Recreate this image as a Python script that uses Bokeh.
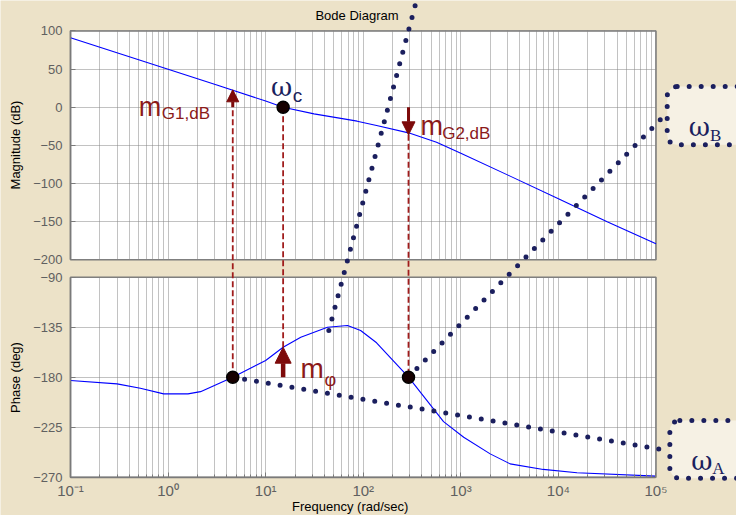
from bokeh.plotting import figure
from bokeh.models import Range1d, LinearAxis, LogAxis, FixedTicker, Grid, Arrow, NormalHead
from bokeh.core.properties import value
from bokeh.embed import file_html
from bokeh.resources import INLINE

# ---------------- data ----------------
mag_freq = [0.1, 0.316, 1, 3.16, 10, 15.1, 31.3, 86.7, 137, 291, 564, 1000, 3160, 10000, 31600, 100000]
mag_db = [91, 70.3, 49.7, 29, 8, 0, -8.7, -18.3, -24, -33.6, -45.9, -60.5, -90, -120, -150, -179]

phase_freq = [0.1, 0.3, 0.52, 0.9, 1.6, 2.15, 4.6, 10, 15.1, 22.9, 43, 69, 94, 137, 291,
              665, 1070, 2000, 3200, 7000, 15500, 100000]
phase_deg = [-183, -186, -190, -195, -195, -193, -180, -165, -153, -144, -135, -133.5, -138, -149, -180,
             -220, -234, -249, -258, -263, -266, -269]

decades = [0.1, 1, 10, 100, 1000, 10000, 100000]
decade_labels = ["10⁻¹", "10⁰", "10¹", "10²", "10³", "10⁴", "10⁵"]
minor_mantissas = [2, 3, 4, 5, 6, 7, 8, 9]
mag_ticks = [-200, -150, -100, -50, 0, 50, 100]
phase_ticks = [-270, -225, -180, -135, -90]

# marked points
w_A = 4.6       # left -180 deg crossing
w_c = 15.1      # gain crossover
w_B = 291       # right -180 deg crossing
m_G1 = 22.8     # dB at w_A
m_G2 = -36.2    # dB at w_B
phi_c = -153    # phase at w_c
phase_ref = -180

# ---------------- layout / style ----------------
W, H = 736, 515
X_LO, X_HI = 10 ** -1.7174, 10 ** 5.8251
MAG_LO, MAG_HI = -535.1, 139.84
PH_LO, PH_HI = -304.47, 159.03

BG = "#ECE2C8"
BOXFILL = "#F6F1E4"
NAVY = "#1b1f5e"
ARROW = "#7d0a0a"
REDTXT = "#8b1a1a"
DASH = "#a01c1c"
FRAME = "#7a7a7a"
GRID = "#858585"
TICK = "#606060"
CURVE = "#0000ff"


def ph2mag(d):
    f = (PH_HI - d) / (PH_HI - PH_LO)
    return MAG_HI - f * (MAG_HI - MAG_LO)


p = figure(width=W, height=H, x_axis_type="log", x_range=Range1d(X_LO, X_HI),
           y_range=Range1d(MAG_LO, MAG_HI), x_axis_location=None, y_axis_location=None,
           toolbar_location=None, tools="", output_backend="svg", min_border=0, title=None)
p.center = []
p.extra_y_ranges = {"phase": Range1d(PH_LO, PH_HI)}
p.background_fill_color = BG
p.border_fill_color = BG
p.outline_line_color = None

# plot panels
p.quad(left=[decades[0]], right=[decades[-1]], bottom=[mag_ticks[0]], top=[mag_ticks[-1]],
       fill_color="white", line_color=FRAME, line_width=1.5, level="image")
p.quad(left=[decades[0]], right=[decades[-1]], bottom=[phase_ticks[0]], top=[phase_ticks[-1]],
       fill_color="white", line_color=FRAME, line_width=1.5, level="image", y_range_name="phase")

# grids
x_minor = [m * d for d in decades[:-1] for m in minor_mantissas]
x_ticker = FixedTicker(ticks=decades, minor_ticks=x_minor)
for rname, yt in (("default", mag_ticks), ("phase", phase_ticks)):
    p.add_layout(Grid(dimension=0, ticker=x_ticker, y_range_name=rname,
                      bounds=(decades[0], decades[-1]), cross_bounds=(yt[0], yt[-1]),
                      grid_line_color=GRID, grid_line_dash="1 1", grid_line_width=1,
                      minor_grid_line_color=GRID, minor_grid_line_dash="1 1", minor_grid_line_width=1), "center")
    p.add_layout(Grid(dimension=1, ticker=FixedTicker(ticks=yt), y_range_name=rname,
                      bounds=(yt[0], yt[-1]), cross_bounds=(decades[0], decades[-1]),
                      grid_line_color=GRID, grid_line_dash="1 1", grid_line_width=1), "center")


def axis_style(ax):
    ax.axis_line_color = FRAME
    ax.axis_line_width = 1.5
    ax.major_tick_in = 5
    ax.major_tick_out = 0
    ax.major_tick_line_color = FRAME
    ax.minor_tick_in = 3
    ax.minor_tick_out = 0
    ax.minor_tick_line_color = FRAME
    ax.major_label_text_font = "Liberation Sans"
    ax.major_label_text_color = TICK
    ax.axis_label_text_font = "Liberation Sans"
    ax.axis_label_text_font_style = "normal"
    ax.axis_label_text_color = "black"
    ax.axis_label_text_font_size = "13px"


ax_mag = LinearAxis(fixed_location=decades[0], bounds=(mag_ticks[0], mag_ticks[-1]),
                    ticker=FixedTicker(ticks=mag_ticks), axis_label="Magnitude (dB)")
axis_style(ax_mag)
ax_mag.major_label_text_font_size = "13px"
ax_mag.major_label_standoff = 8
ax_mag.axis_label_standoff = 7
p.add_layout(ax_mag, "left")

ax_ph = LinearAxis(fixed_location=decades[0], bounds=(phase_ticks[0], phase_ticks[-1]),
                   ticker=FixedTicker(ticks=phase_ticks), axis_label="Phase (deg)", y_range_name="phase")
axis_style(ax_ph)
ax_ph.major_label_text_font_size = "13px"
ax_ph.major_label_standoff = 8
ax_ph.axis_label_standoff = 7
p.add_layout(ax_ph, "left")

ax_x = LogAxis(y_range_name="phase", fixed_location=phase_ticks[0], bounds=(decades[0], decades[-1]),
               ticker=x_ticker, major_label_overrides=dict(zip(decades, decade_labels)))
axis_style(ax_x)
ax_x.major_label_text_font_size = "15px"
ax_x.major_label_standoff = 5
p.add_layout(ax_x, "below")

# curves
p.line(mag_freq, mag_db, line_color=CURVE, line_width=1.1)
p.line(phase_freq, phase_deg, line_color=CURVE, line_width=1.1, y_range_name="phase")

# red dashed construction lines (magnitude coordinates)
p.segment(x0=[w_A, w_c, w_B], y0=[ph2mag(phase_ref), 0, m_G2],
          x1=[w_A, w_c, w_B], y1=[0, ph2mag(phi_c), ph2mag(phase_ref)],
          line_color=DASH, line_width=1.8, line_dash="6 3")

# navy dotted callout lines (phase coordinates)
p.segment(x0=[44.4, w_A, w_B], y0=[-138, phase_ref, phase_ref],
          x1=[374, 122200, 120200], y1=[168, -245.5, 54.9],
          line_color=NAVY, line_width=5, line_dash="0 12", line_cap="round", y_range_name="phase")

# callout boxes
p.quad(left=[130300], right=[931000], top=[27.1], bottom=[-49.3], border_radius=10,
       fill_color=BOXFILL, line_color=NAVY, line_width=5, line_dash="0 12", line_cap="round")
p.quad(left=[138700], right=[914000], top=[-219], bottom=[-270.9], border_radius=10,
       fill_color=BOXFILL, line_color=NAVY, line_width=5, line_dash="0 12", line_cap="round",
       y_range_name="phase")

# marked points
p.scatter(x=[w_c], y=[0], size=12, fill_color="#160000", line_color="black", line_width=1.5)
p.scatter(x=[w_A, w_B], y=[phase_ref, phase_ref], size=12, fill_color="#160000", line_color="black",
          line_width=1.5, y_range_name="phase")

# arrows
p.add_layout(Arrow(x_start=w_A, y_start=0, x_end=w_A, y_end=m_G1, line_color=ARROW, line_width=3,
                   end=NormalHead(size=12, fill_color=ARROW, line_color=ARROW)))
p.add_layout(Arrow(x_start=w_B, y_start=0, x_end=w_B, y_end=m_G2, line_color=ARROW, line_width=3,
                   end=NormalHead(size=13, fill_color=ARROW, line_color=ARROW)))
p.add_layout(Arrow(x_start=w_c, y_start=phase_ref, x_end=w_c, y_end=phi_c, line_color=ARROW, line_width=4.5,
                   y_range_name="phase", end=NormalHead(size=16, fill_color=ARROW, line_color=ARROW)))


def txt(x, y, s, font, size, color, rname="default", align="left", baseline="alphabetic"):
    p.text(x=[x], y=[y], text=[s], text_font=value(font), text_font_size=value(size),
           text_color=color, text_align=align, text_baseline=baseline, y_range_name=rname)


# title and x-axis label
txt(86.3, 120.2, "Bode Diagram", "Liberation Sans", "13px", "black", align="center", baseline="middle")
txt(76.8, -296.4, "Frequency  (rad/sec)", "Liberation Sans", "13px", "black", rname="phase", align="center")

# labels
txt(11.34, 27.1, "ω", "DejaVu Serif", "26px", NAVY)
txt(18.97, 15.3, "c", "Liberation Sans", "19px", NAVY)
txt(0.5, 0.0, "m", "Liberation Sans", "27px", REDTXT)
txt(0.862, -8.65, "G1,dB", "Liberation Sans", "17px", REDTXT)
txt(385.5, -24.0, "m", "Liberation Sans", "27px", REDTXT)
txt(644, -34.1, "G2,dB", "Liberation Sans", "17px", REDTXT)
txt(22.7, -172.4, "m", "Liberation Sans", "28px", REDTXT, rname="phase")
txt(40.1, -182.4, "φ", "Liberation Sans", "18px", REDTXT, rname="phase")
txt(216800, -26.2, "ω", "DejaVu Serif", "26px", NAVY)
txt(357000, -37.1, "B", "Liberation Serif", "17px", NAVY)
txt(229600, -255, "ω", "DejaVu Serif", "26px", NAVY, rname="phase")
txt(376700, -262.4, "A", "Liberation Serif", "17px", NAVY, rname="phase")

html = file_html(p, INLINE, title="Bode Diagram")
html = html.replace("<body>", '<body style="background-color: %s;">' % BG, 1)
with open("out.html", "w") as f:
    f.write(html)
